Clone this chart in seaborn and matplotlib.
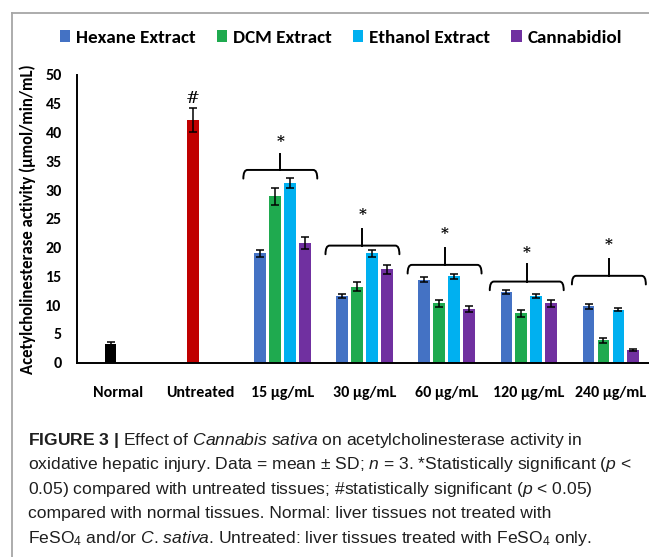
import matplotlib
matplotlib.use("Agg")
import matplotlib.pyplot as plt
from matplotlib.font_manager import FontProperties
from matplotlib.lines import Line2D
from matplotlib.path import Path
from matplotlib.patches import PathPatch
import numpy as np
import pandas as pd
import seaborn as sns

# ---- data (mean ± SD, µmol/min/mL) ----
groups = ["Normal", "Untreated", "15 µg/mL", "30 µg/mL", "60 µg/mL", "120 µg/mL", "240 µg/mL"]
series = ["Hexane Extract", "DCM Extract", "Ethanol Extract", "Cannabidiol"]
control_groups = ["Normal", "Untreated"]
control_mean = [3.3, 42.2]
control_sd = [0.3, 2.1]
dose_groups = ["15 µg/mL", "30 µg/mL", "60 µg/mL", "120 µg/mL", "240 µg/mL"]
hexane_mean = [19.0, 11.6, 14.4, 12.3, 9.8]
hexane_sd = [0.6, 0.4, 0.45, 0.35, 0.4]
dcm_mean = [28.9, 13.2, 10.3, 8.6, 3.9]
dcm_sd = [1.5, 0.8, 0.6, 0.6, 0.4]
ethanol_mean = [31.2, 19.0, 15.0, 11.6, 9.2]
ethanol_sd = [0.9, 0.65, 0.5, 0.35, 0.3]
cbd_mean = [20.8, 16.2, 9.3, 10.3, 2.2]
cbd_sd = [1.0, 0.8, 0.55, 0.6, 0.2]

# significance brackets over each dose group
bracket_level = [33.5, 20.35, 17.0, 14.1, 15.1]
bracket_stem_top = [36.3, 23.2, 19.9, 17.1, 18.0]
star_level = [38.4, 25.7, 22.4, 19.1, 20.4]
hash_level = 46.0

palette = {"Hexane Extract": "#4472C4", "DCM Extract": "#1FAA4F",
           "Ethanol Extract": "#00B0F0", "Cannabidiol": "#7030A0"}
control_colors = ["#000000", "#C00000"]

# ---- long-form table ----
rows = []
# the control bars sit in the second slot of their category
for g, m, s in zip(control_groups, control_mean, control_sd):
    rows.append(dict(group=g, series="DCM Extract", value=m, sd=s))
for name, means, sds in zip(series, [hexane_mean, dcm_mean, ethanol_mean, cbd_mean],
                            [hexane_sd, dcm_sd, ethanol_sd, cbd_sd]):
    for g, m, s in zip(dose_groups, means, sds):
        rows.append(dict(group=g, series=name, value=m, sd=s))
df = pd.DataFrame(rows)
sd_lookup = {(r.series, groups.index(r.group)): r.sd for r in df.itertuples()}

# ---- fonts ----
plt.rcParams["font.family"] = ["Carlito", "DejaVu Sans"]
plt.rcParams["mathtext.fontset"] = "custom"
plt.rcParams["mathtext.rm"] = "Liberation Sans"
plt.rcParams["mathtext.it"] = "Liberation Sans:italic"
plt.rcParams["mathtext.bf"] = "Liberation Sans:bold"

W, H = 649, 557
fig = plt.figure(figsize=(W / 100, H / 100), dpi=100)
ax = fig.add_axes([77 / W, 194.3 / H, 575 / W, 287.7 / H])

sns.barplot(data=df, x="group", y="value", hue="series", order=groups,
            hue_order=series, palette=palette, width=0.725, gap=0.215,
            errorbar=None, saturation=1, ax=ax, legend=True)

# recolour the control bars and add SD error bars
for cont, name in zip(ax.containers, series):
    xs, hs, es = [], [], []
    for bar in cont:
        cx = bar.get_x() + bar.get_width() / 2
        ci = int(round(cx))
        if groups[ci] in control_groups:
            bar.set_facecolor(control_colors[control_groups.index(groups[ci])])
        xs.append(cx)
        hs.append(bar.get_height())
        es.append(sd_lookup[(name, ci)])
    ax.errorbar(xs, hs, yerr=es, fmt="none", ecolor="black",
                elinewidth=1.1, capsize=2.6, capthick=1.1, zorder=4)

# brackets and significance marks
for i, g in enumerate(dose_groups):
    xc = groups.index(g) - 0.025
    hw, r, drop = 0.45, 0.05, 1.5
    yb = bracket_level[i]
    verts = [(xc - hw, yb - drop), (xc - hw, yb), (xc - hw + r, yb),
             (xc + hw - r, yb), (xc + hw, yb), (xc + hw, yb - drop)]
    codes = [Path.MOVETO, Path.CURVE3, Path.CURVE3, Path.LINETO, Path.CURVE3, Path.CURVE3]
    ax.add_patch(PathPatch(Path(verts, codes), fill=False, lw=1.4, color="black",
                           capstyle="round", zorder=5))
    ax.plot([xc, xc], [yb, bracket_stem_top[i]], color="black", lw=1.4, zorder=5)
    ax.text(xc, star_level[i], "*", ha="center", va="center", fontsize=11,
            fontweight="bold", family="DejaVu Serif")
ax.text(groups.index("Untreated") - 0.09, hash_level, "#", ha="center", va="center",
        fontsize=12, family="DejaVu Serif")

# axes styling
ax.set_xlim(-0.5, 6.5)
ax.set_ylim(0, 50)
ax.set_yticks(np.arange(0, 51, 5))
ax.set_xlabel("")
ax.set_ylabel("Acetylcholinesterase activity (µmol/min/mL)", fontsize=12,
              fontweight="bold")
ax.yaxis.set_label_coords(-0.0713, 0.5)
ax.yaxis.label.set_va("bottom")
for sp in ["top", "right"]:
    ax.spines[sp].set_visible(False)
for sp in ["left", "bottom"]:
    ax.spines[sp].set_linewidth(1.4)
    ax.spines[sp].set_color("black")
ax.tick_params(axis="both", length=0, labelsize=11.5)
ax.tick_params(axis="y", pad=11)
ax.tick_params(axis="x", pad=17)
for lab in ax.get_xticklabels() + ax.get_yticklabels():
    lab.set_fontweight("bold")

# legend across the top
leg = ax.get_legend()
handles = leg.legend_handles
labels = [t.get_text() for t in leg.get_texts()]
leg.remove()
for h in handles:
    h.set_edgecolor("none")
fig.legend(handles, labels, loc="center", bbox_to_anchor=(0.525, 0.932), ncol=4,
           frameon=False, prop=FontProperties(family="Carlito", weight="bold", size=13.8),
           handlelength=0.55, handleheight=0.55, handletextpad=0.3, columnspacing=1.1)

# panel border
border = "#A6A6A6"
fig.add_artist(Line2D([12 / W, 12 / W], [0, 1 - 13 / H], transform=fig.transFigure,
                      color=border, lw=1.3))
fig.add_artist(Line2D([12 / W, 1], [1 - 13 / H, 1 - 13 / H], transform=fig.transFigure,
                      color=border, lw=1.3))

# caption
caption = [
    r"$\mathbf{FIGURE}$ $\mathbf{3}$ $\mathbf{|}$ Effect of $\mathit{Cannabis}$ $\mathit{sativa}$ on acetylcholinesterase activity in",
    r"oxidative hepatic injury. Data = mean ± SD; $\mathit{n}$ = 3. *Statistically significant ($\mathit{p}$ <",
    r"0.05) compared with untreated tissues; #statistically significant ($\mathit{p}$ < 0.05)",
    r"compared with normal tissues. Normal: liver tissues not treated with",
    r"FeSO$_\mathregular{4}$ and/or $\mathit{C}$. $\mathit{sativa}$. Untreated: liver tissues treated with FeSO$_\mathregular{4}$ only.",
]
cap_font = FontProperties(family="Liberation Sans", size=12.6)
for k, line in enumerate(caption):
    y = 1 - (445 + 24.4 * k) / H
    fig.text(28 / W, y, line, ha="left", va="baseline", fontproperties=cap_font,
             color="#1E1E1E")

fig.savefig("out.png", dpi=100)
